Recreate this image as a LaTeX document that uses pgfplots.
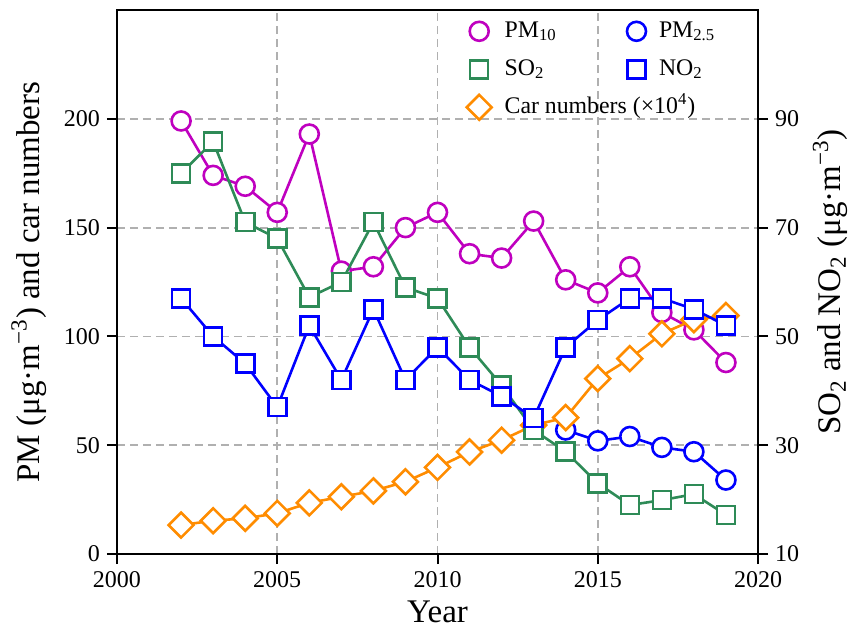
\documentclass[border=0pt]{standalone}
\usepackage{pgfplots}
\pgfplotsset{compat=1.18}
\usepackage{fontspec}
\setmainfont{Liberation Serif}
\definecolor{cPM}{RGB}{191,0,191}
\definecolor{cSO}{RGB}{46,139,87}
\definecolor{cNO}{RGB}{0,0,255}
\definecolor{cCar}{RGB}{255,140,0}
\definecolor{cgrid}{RGB}{176,176,176}
\pgfplotsset{
  mybase/.style={width=320.5pt,height=272pt,scale only axis,
    xmin=2000,xmax=2020,
    tick align=outside, major tick length=5pt,
    tick style={line width=1pt,black},
    axis line style={line width=1pt},
    ticklabel style={font=\fontsize{12}{14}\selectfont},
    label style={font=\fontsize{16.5}{19}\selectfont},
    /pgf/number format/assume math mode=true,
    /pgf/number format/1000 sep={},
    legend cell align=left,
    legend style={draw=none,fill=none,inner sep=0pt,row sep=3pt,
      font=\fontsize{11.9}{14}\selectfont,
      nodes={inner sep=2pt,text height=9pt,text depth=3pt},
      /tikz/every odd column/.append style={column sep=4.5pt}},
  },
  pmstyle/.style={cPM,line width=1.3pt,mark=*,mark size=4.75pt,mark options={fill=white,line width=1.3pt}},
  p25style/.style={cNO,line width=1.3pt,mark=*,mark size=4.75pt,mark options={fill=white,line width=1.3pt}},
  sostyle/.style={cSO,line width=1.3pt,mark=square*,mark size=4.5pt,mark options={fill=white,line width=1.3pt}},
  nostyle/.style={cNO,line width=1.3pt,mark=square*,mark size=4.5pt,mark options={fill=white,line width=1.3pt}},
  carstyle/.style={cCar,line width=1.3pt,mark=square*,mark size=4.4pt,mark options={rotate=45,fill=white,line width=1.3pt}},
}
\begin{document}
\begin{tikzpicture}
\begin{axis}[mybase,
  ymin=0,ymax=250,
  ytick={0,50,100,150,200},
  xtick={2000,2005,2010,2015,2020},
  xtick pos=left, ytick pos=left,
  grid=major, grid style={cgrid,line width=0.9pt,dash pattern=on 4pt off 2.5pt},
  xlabel={Year},
  ylabel={PM (μg·m\textsuperscript{−3}) and car numbers},
  ylabel style={yshift=2pt},
  legend style={at={(axis description cs:0.545,0.991)},anchor=north west},
]
\addlegendimage{only marks,pmstyle}
\addlegendentry{PM\textsubscript{10}}
\addlegendimage{only marks,sostyle}
\addlegendentry{SO\textsubscript{2}}
\addlegendimage{only marks,carstyle}
\addlegendentry{Car numbers (×10\textsuperscript{4})}
\addplot[pmstyle,forget plot] coordinates {
(2002,199) (2003,174) (2004,169) (2005,157) (2006,193) (2007,130) (2008,132) (2009,150) (2010,157)
(2011,138) (2012,136) (2013,153) (2014,126) (2015,120) (2016,132) (2017,111) (2018,103) (2019,88)};
\addplot[p25style,forget plot] coordinates {
(2014,57) (2015,52) (2016,54) (2017,49) (2018,47) (2019,34)};
\addplot[carstyle,forget plot] coordinates {
(2002,13.3) (2003,15.3) (2004,16.4) (2005,18.7) (2006,23.5) (2007,26.3) (2008,29) (2009,33.2) (2010,39.8)
(2011,46.9) (2012,52.3) (2013,59.2) (2014,62.7) (2015,80.6) (2016,89.8) (2017,101.2) (2018,107.7) (2019,109.6)};
\end{axis}
\begin{axis}[mybase,
  ymin=10,ymax=110,
  ytick={10,30,50,70,90},
  axis y line*=right, hide x axis,
  ylabel={SO\textsubscript{2} and NO\textsubscript{2} (μg·m\textsuperscript{−3})},
  legend style={at={(axis description cs:0.795,0.991)},anchor=north west},
]
\addlegendimage{only marks,p25style}
\addlegendentry{PM\textsubscript{2.5}}
\addlegendimage{only marks,nostyle}
\addlegendentry{NO\textsubscript{2}}
\addplot[sostyle,forget plot] coordinates {
(2002,80) (2003,85.8) (2004,71) (2005,68) (2006,57.2) (2007,60) (2008,71) (2009,59) (2010,57)
(2011,48) (2012,41) (2013,32.8) (2014,28.8) (2015,23) (2016,19) (2017,19.9) (2018,21) (2019,17.2)};
\addplot[nostyle,forget plot] coordinates {
(2002,57) (2003,50) (2004,45) (2005,37) (2006,52) (2007,42) (2008,55) (2009,42) (2010,48)
(2011,42) (2012,39) (2013,35) (2014,48) (2015,53) (2016,57) (2017,57) (2018,55) (2019,52)};
\end{axis}
\pgfresetboundingbox
\path (-58.5pt,-39.5pt) rectangle (366.5pt,277pt);
\end{tikzpicture}
\end{document}
